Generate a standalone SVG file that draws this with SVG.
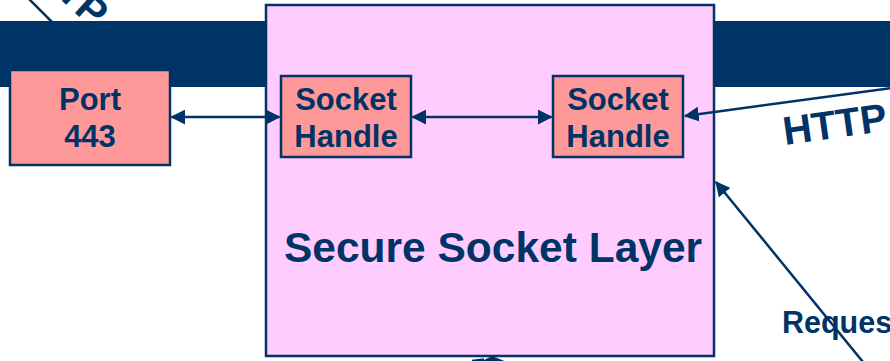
<svg xmlns="http://www.w3.org/2000/svg" width="890" height="361" viewBox="0 0 890 361">
  <defs>
    <style>
      .lbl { font-family: "Liberation Sans", Arial, sans-serif; font-weight: bold; fill: #003366; }
      .box { fill: #FF9999; stroke: #003366; stroke-width: 2.5; }
      .wire { stroke: #003366; stroke-width: 2.5; fill: none; }
    </style>
    <marker id="head" viewBox="0 0 12 12" refX="11" refY="6" markerWidth="6" markerHeight="6" markerUnits="strokeWidth" orient="auto-start-reverse">
      <path d="M0,0 L12,6 L0,12 z" fill="#003366"/>
    </marker>
  </defs>
  <rect width="890" height="361" fill="#ffffff"/>

  <!-- label and link running off the top-left edge -->
  <g id="http-upper">
    <line class="wire" x1="28" y1="-2" x2="60" y2="30"/>
    <text class="lbl" font-size="40" transform="translate(74,12) rotate(42)" x="-79" y="0">HTTP</text>
  </g>

  <!-- top band -->
  <rect id="band" x="0" y="21" width="890" height="66" fill="#003366"/>

  <!-- SSL container -->
  <g id="ssl">
    <rect x="266" y="5" width="448" height="351" fill="#FFCCFF" stroke="#003366" stroke-width="2.5"/>
    <text class="lbl" font-size="42.5" x="493" y="262" text-anchor="middle">Secure Socket Layer</text>
  </g>

  <g id="port">
    <rect class="box" x="10" y="70" width="160" height="95"/>
    <text class="lbl" font-size="31" x="90" y="110" text-anchor="middle">Port</text>
    <text class="lbl" font-size="31" x="90" y="147" text-anchor="middle">443</text>
  </g>

  <g id="socket-a">
    <rect class="box" x="281" y="76" width="130" height="81"/>
    <text class="lbl" font-size="31" x="346" y="110" text-anchor="middle">Socket</text>
    <text class="lbl" font-size="31" x="346" y="147" text-anchor="middle">Handle</text>
  </g>

  <g id="socket-b">
    <rect class="box" x="553" y="76" width="130" height="81"/>
    <text class="lbl" font-size="31" x="618" y="110" text-anchor="middle">Socket</text>
    <text class="lbl" font-size="31" x="618" y="147" text-anchor="middle">Handle</text>
  </g>

  <g id="connectors">
    <line class="wire" x1="171.5" y1="117" x2="279.5" y2="117" marker-start="url(#head)" marker-end="url(#head)"/>
    <line class="wire" x1="412.5" y1="117" x2="551.5" y2="117" marker-start="url(#head)" marker-end="url(#head)"/>
    <line class="wire" x1="892" y1="88" x2="685" y2="116" marker-end="url(#head)"/>
    <line class="wire" x1="863" y1="362" x2="716" y2="182" marker-end="url(#head)"/>
    <!-- arrow entering the container from below -->
    <line class="wire" x1="472" y1="361" x2="484" y2="359.5"/>
    <polygon points="480,362 492,356 507,362" fill="#003366"/>
  </g>

  <g id="labels">
    <text class="lbl" font-size="40" transform="translate(785,145) rotate(-8)">HTTP</text>
    <text class="lbl" font-size="30.5" x="782" y="333">Request</text>
  </g>
</svg>
